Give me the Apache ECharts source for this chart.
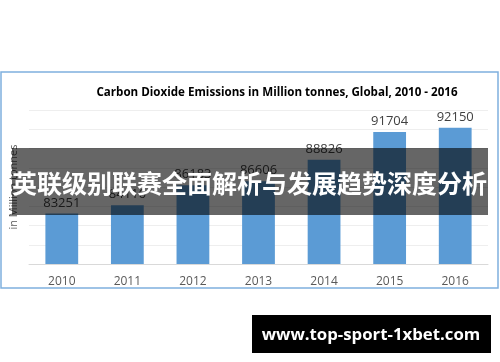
<!DOCTYPE html>
<html>
<head>
<meta charset="utf-8">
<script src="https://cdn.jsdelivr.net/npm/echarts@6/dist/echarts.min.js"></script>
<style>
html,body{margin:0;padding:0;background:#fff;}
#c{width:500px;height:362px;}
</style>
</head>
<body>
<div id="c"></div>
<script>
const years = ['2010','2011','2012','2013','2014','2015','2016'];
const emissions = [83251, 84116, 86183, 86606, 88826, 91704, 92150];
const titleText = 'Carbon Dioxide Emissions in Million tonnes, Global, 2010 - 2016';
const yAxisName = 'in Million tonnes';
const bannerText = '英联级别联赛全面解析与发展趋势深度分析';
const watermarkText = 'www.top-sport-1xbet.com';

const chart = echarts.init(document.getElementById('c'), null, {renderer: 'canvas'});
chart.setOption({
  backgroundColor: '#ffffff',
  animation: false,
  title: {
    text: titleText,
    left: 272, top: 82, textAlign: 'center',
    textStyle: {fontFamily: 'Open Sans', fontWeight: 'bold', fontSize: 11.6, color: '#000'}
  },
  grid: {left: 27, right: 12, top: 110, bottom: 98},
  xAxis: {
    type: 'category', data: years,
    axisLine: {lineStyle: {color: '#d9d9d9'}},
    axisTick: {show: false},
    axisLabel: {color: '#595959', fontSize: 12, fontFamily: 'Open Sans', margin: 12}
  },
  yAxis: {
    type: 'value', min: 78000, max: 94000, interval: 2000,
    name: yAxisName, nameLocation: 'middle', nameRotate: 90, nameGap: 10,
    nameTextStyle: {color: '#595959', fontSize: 11, fontFamily: 'Open Sans'},
    axisLabel: {show: false},
    axisLine: {show: false}, axisTick: {show: false},
    splitLine: {lineStyle: {color: '#eeeeee'}}
  },
  series: [{
    type: 'bar', data: emissions, barWidth: '50%',
    itemStyle: {color: '#5b9bd5'},
    label: {show: true, position: 'top', distance: 4, color: '#404040', fontSize: 13, fontFamily: 'Open Sans'}
  }],
  graphic: [
    {type: 'rect', shape: {x: 1, y: 72, width: 497, height: 216}, style: {fill: 'none', stroke: '#7fb0de', lineWidth: 1.5}, z: 0},
    {type: 'rect', shape: {x: 12, y: 148, width: 476, height: 67}, style: {fill: 'rgba(0,0,0,0.6)'}, z: 100},
    {type: 'text', x: 12, y: 183, style: {text: bannerText, fill: '#fff', font: 'bold 25px "Noto Sans CJK SC"', textVerticalAlign: 'middle'}, z: 101},
    {type: 'rect', shape: {x: 252, y: 315, width: 239, height: 38}, style: {fill: '#000'}, z: 100},
    {type: 'text', x: 371, y: 335, style: {text: watermarkText, fill: '#fff', font: 'bold 16.8px "Open Sans"', textAlign: 'center', textVerticalAlign: 'middle'}, z: 101}
  ]
});
</script>
</body>
</html>
